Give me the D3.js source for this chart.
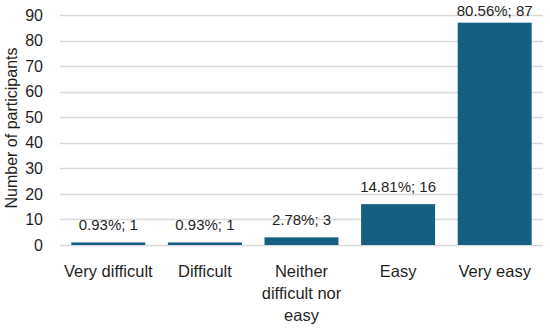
<!DOCTYPE html>
<html>
<head>
<meta charset="utf-8">
<script src="https://cdn.jsdelivr.net/npm/d3@7"></script>
<style>
  body { margin: 0; background: #fff; }
  svg text { font-family: "Liberation Sans", Arial, sans-serif; fill: #1f1f1f; }
</style>
</head>
<body>
<div id="graph"></div>
<script>
(function(){
"use strict";

var categories = [["Very difficult"], ["Difficult"], ["Neither", "difficult nor", "easy"], ["Easy"], ["Very easy"]];
var counts = [1, 1, 3, 16, 87];
var percents = ["0.93%", "0.93%", "2.78%", "14.81%", "80.56%"];
var yTicks = [0, 10, 20, 30, 40, 50, 60, 70, 80, 90];

var width = 550, height = 331;
var margin = {top: 15, right: 7, bottom: 86, left: 60};
var innerW = width - margin.left - margin.right;
var innerH = height - margin.top - margin.bottom;

var svg = d3.select("#graph")
  .append("svg")
    .attr("width", width)
    .attr("height", height);

var g = svg.append("g")
  .attr("transform", "translate(" + margin.left + "," + margin.top + ")");

var x = d3.scaleBand()
  .domain(d3.range(counts.length))
  .range([0, innerW])
  .paddingInner(0.234)
  .paddingOuter(0.117);

var y = d3.scaleLinear()
  .domain([0, 90])
  .range([innerH, 0]);

// gridlines
g.append("g")
  .selectAll("line")
  .data(yTicks)
  .enter()
  .append("line")
    .attr("x1", 0)
    .attr("x2", innerW)
    .attr("y1", function(d){ return Math.round(y(d)) + 0.5; })
    .attr("y2", function(d){ return Math.round(y(d)) + 0.5; })
    .attr("stroke", "#d9d9d9")
    .attr("stroke-width", 1.3);

// y axis
var yAxis = d3.axisLeft(y)
  .tickValues(yTicks)
  .tickSize(0)
  .tickPadding(17);

g.append("g")
  .attr("class", "y")
  .call(yAxis)
  .call(function(s){ s.select(".domain").remove(); })
  .selectAll("text")
    .style("font-size", "16px");

// bars
g.selectAll(".bar")
  .data(counts)
  .enter()
  .append("rect")
    .attr("class", "bar")
    .attr("x", function(d, i){ return x(i); })
    .attr("width", x.bandwidth())
    .attr("y", function(d){ return y(d); })
    .attr("height", function(d){ return innerH - y(d); })
    .attr("fill", "#156082");

// data labels
g.selectAll(".lbl")
  .data(counts)
  .enter()
  .append("text")
    .attr("class", "lbl")
    .attr("x", function(d, i){ return x(i) + x.bandwidth() / 2; })
    .attr("y", function(d){ return Math.max(y(d) - 12, 1); })
    .attr("text-anchor", "middle")
    .style("font-size", "15px")
    .text(function(d, i){ return percents[i] + "; " + d; });

// category labels
var cat = g.selectAll(".cat")
  .data(categories)
  .enter()
  .append("text")
    .attr("class", "cat")
    .attr("text-anchor", "middle")
    .attr("transform", function(d, i){
      return "translate(" + (x(i) + x.bandwidth() / 2) + "," + (innerH + 32) + ")";
    })
    .style("font-size", "16.5px");

cat.selectAll("tspan")
  .data(function(d){ return d; })
  .enter()
  .append("tspan")
    .attr("x", 0)
    .attr("y", function(d, i){ return i * 22; })
    .text(function(d){ return d; });

// y title
svg.append("text")
  .attr("transform", "translate(17," + (margin.top + innerH / 2 - 2) + ") rotate(-90)")
  .attr("text-anchor", "middle")
  .style("font-size", "16px")
  .text("Number of participants");

})();
</script>
</body>
</html>
